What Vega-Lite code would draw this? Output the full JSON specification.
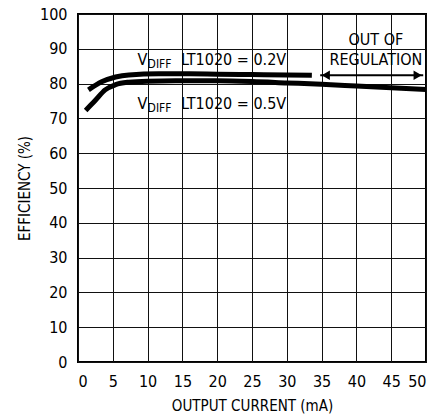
{
  "$schema": "https://vega.github.io/schema/vega-lite/v6.json",
  "autosize": "none",
  "width": 348,
  "height": 348,
  "padding": {"left": 78, "top": 14, "right": 9, "bottom": 52},
  "background": "white",
  "config": {
    "view": {"stroke": "black", "strokeWidth": 2},
    "font": "DejaVu Sans Condensed, sans-serif",
    "axis": {
      "grid": true, "gridColor": "#111", "gridWidth": 1, "gridOpacity": 1,
      "domain": false, "ticks": false, "labelOverlap": false,
      "labelColor": "black", "labelFontSize": 16, "labelFont": "DejaVu Sans Condensed, sans-serif",
      "titleColor": "black", "titleFontSize": 15, "titleFontWeight": "normal", "titleFont": "DejaVu Sans Condensed, sans-serif"
    }
  },
  "datasets": {
    "curves": [
      {"series": "0.2V", "x": 1.5, "y": 78.2},
      {"series": "0.2V", "x": 3.4, "y": 80.5},
      {"series": "0.2V", "x": 5.4, "y": 81.9},
      {"series": "0.2V", "x": 7.3, "y": 82.5},
      {"series": "0.2V", "x": 11.6, "y": 82.8},
      {"series": "0.2V", "x": 16, "y": 82.8},
      {"series": "0.2V", "x": 20, "y": 82.7},
      {"series": "0.2V", "x": 25, "y": 82.6},
      {"series": "0.2V", "x": 30, "y": 82.5},
      {"series": "0.2V", "x": 33.6, "y": 82.4},
      {"series": "0.5V", "x": 1.1, "y": 72.3},
      {"series": "0.5V", "x": 2.5, "y": 75.2},
      {"series": "0.5V", "x": 3.9, "y": 78.2},
      {"series": "0.5V", "x": 5.4, "y": 79.7},
      {"series": "0.5V", "x": 7.3, "y": 80.4},
      {"series": "0.5V", "x": 10, "y": 80.7},
      {"series": "0.5V", "x": 14, "y": 80.8},
      {"series": "0.5V", "x": 20, "y": 80.8},
      {"series": "0.5V", "x": 25, "y": 80.6},
      {"series": "0.5V", "x": 30, "y": 80.2},
      {"series": "0.5V", "x": 35, "y": 79.8},
      {"series": "0.5V", "x": 40, "y": 79.3},
      {"series": "0.5V", "x": 45, "y": 78.8},
      {"series": "0.5V", "x": 50, "y": 78.3}
    ],
    "labels": [
      {"x": 8.55, "y": 85.3, "text": "V", "size": 16},
      {"x": 10.0, "y": 84.4, "text": "DIFF", "size": 12},
      {"x": 14.8, "y": 85.3, "text": "LT1020 = 0.2V", "size": 16},
      {"x": 8.55, "y": 72.6, "text": "V", "size": 16},
      {"x": 10.0, "y": 71.7, "text": "DIFF", "size": 12},
      {"x": 14.8, "y": 72.6, "text": "LT1020 = 0.5V", "size": 16}
    ],
    "centered": [
      {"x": 42.8, "y": 91.0, "text": "OUT OF"},
      {"x": 42.8, "y": 85.3, "text": "REGULATION"}
    ],
    "arrow": [
      {"x": 34.8, "x2": 49.6, "y": 82.4}
    ],
    "heads": [
      {"x": 35.6, "y": 82.4, "shape": "triangle-left"},
      {"x": 48.8, "y": 82.4, "shape": "triangle-right"}
    ]
  },
  "encoding": {
    "x": {"field": "x", "type": "quantitative", "scale": {"domain": [0, 50], "nice": false},
          "axis": {"values": [0,5,10,15,20,25,30,35,40,45,50], "title": "OUTPUT CURRENT (mA)", "labelPadding": 11, "titlePadding": 9}},
    "y": {"field": "y", "type": "quantitative", "scale": {"domain": [0, 100], "nice": false},
          "axis": {"values": [0,10,20,30,40,50,60,70,80,90,100], "title": "EFFICIENCY (%)", "labelPadding": 11, "titlePadding": 7}}
  },
  "layer": [
    {
      "data": {"name": "curves"},
      "mark": {"type": "line", "color": "black", "strokeWidth": 5, "interpolate": "monotone", "strokeCap": "butt"},
      "encoding": {"detail": {"field": "series"}}
    },
    {
      "data": {"name": "labels"},
      "mark": {"type": "text", "align": "left", "baseline": "alphabetic", "color": "black"},
      "encoding": {
        "text": {"field": "text"},
        "size": {"field": "size", "type": "quantitative", "scale": null}
      }
    },
    {
      "data": {"name": "centered"},
      "mark": {"type": "text", "align": "center", "baseline": "alphabetic", "color": "black", "fontSize": 16},
      "encoding": {"text": {"field": "text"}}
    },
    {
      "data": {"name": "arrow"},
      "mark": {"type": "rule", "color": "black", "strokeWidth": 2},
      "encoding": {"x2": {"field": "x2"}}
    },
    {
      "data": {"name": "heads"},
      "mark": {"type": "point", "filled": true, "color": "black", "size": 90, "opacity": 1},
      "encoding": {"shape": {"field": "shape", "type": "nominal", "scale": null}}
    }
  ]
}
